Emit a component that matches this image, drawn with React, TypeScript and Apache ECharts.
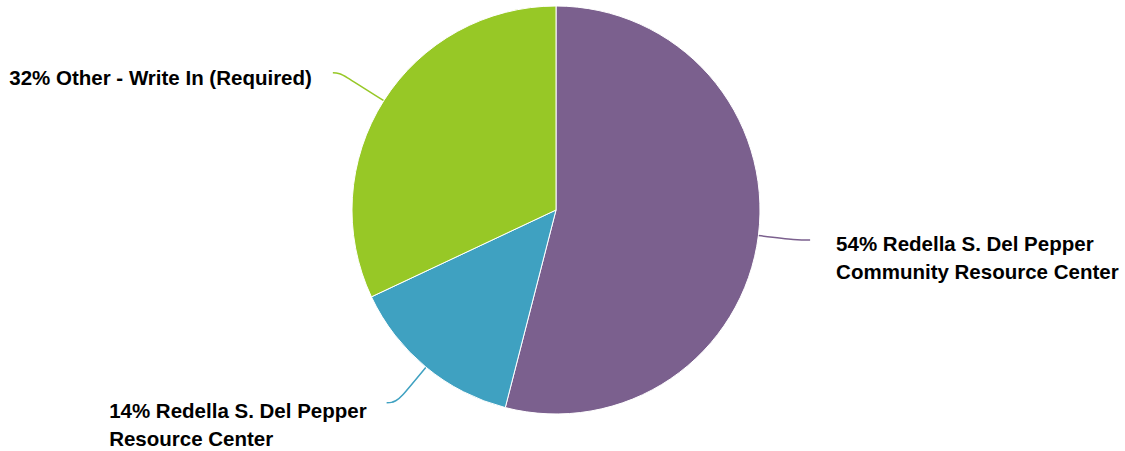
import React, { useEffect, useRef } from "react";
import * as echarts from "echarts";

const categories: string[] = [
  "Redella S. Del Pepper Community Resource Center",
  "Redella S. Del Pepper Resource Center",
  "Other - Write In (Required)",
];
const percents: number[] = [54, 14, 32];
const colors: string[] = ["#7B608E", "#3FA1C1", "#97C826"];

// label line geometry (per slice): first segment, second segment, gap to text, text drop
const lineLen: number[] = [35, 46, 52];
const lineLen2: number[] = [17, 10, 7];
const labelGap: number[] = [26, 20, 21];
const labelDrop: number[] = [36, 44, 10];

function wrap(text: string, maxChars: number): string[] {
  const words = text.split(" ");
  const lines: string[] = [];
  let cur = "";
  for (const w of words) {
    const next = cur ? cur + " " + w : w;
    if (next.length > maxChars && cur) {
      lines.push(cur);
      cur = w;
    } else {
      cur = next;
    }
  }
  if (cur) lines.push(cur);
  return lines;
}

export default function App() {
  const ref = useRef<HTMLDivElement>(null);
  useEffect(() => {
    if (!ref.current) return;
    const chart = echarts.init(ref.current, null, { renderer: "svg" });
    const data = categories.map((name, i) => ({
      name,
      value: percents[i],
      itemStyle: { color: colors[i] },
      labelLine: {
        length: lineLen[i],
        length2: lineLen2[i],
        lineStyle: { color: colors[i] },
      },
      label: {
        distanceToLabelLine: labelGap[i],
        padding: [labelDrop[i], 0, 0, 0],
      },
    }));
    chart.setOption({
      animation: false,
      series: [
        {
          type: "pie",
          center: [556, 210],
          radius: 204,
          startAngle: 90,
          clockwise: true,
          avoidLabelOverlap: false,
          itemStyle: { borderColor: "#ffffff", borderWidth: 1 },
          emphasis: { disabled: true },
          label: {
            show: true,
            position: "outside",
            alignTo: "none",
            formatter: (p: any) =>
              wrap(`${Math.round(p.value)}% ${p.name}`, 31)
                .map((l) => `{t|${l}}`)
                .join("\n"),
            rich: {
              t: {
                fontFamily: "'Liberation Sans', Arial, Helvetica, sans-serif",
                fontSize: 20.5,
                fontWeight: "bold",
                color: "#000000",
                lineHeight: 28,
                align: "left",
              },
            },
          },
          labelLine: {
            show: true,
            smooth: 0.5,
            lineStyle: { width: 1.5 },
          },
          data,
        },
      ],
    });
    return () => chart.dispose();
  }, []);
  return (
    <div
      ref={ref}
      style={{ position: "fixed", left: 0, top: 0, width: 1125, height: 451, background: "#ffffff" }}
    />
  );
}
